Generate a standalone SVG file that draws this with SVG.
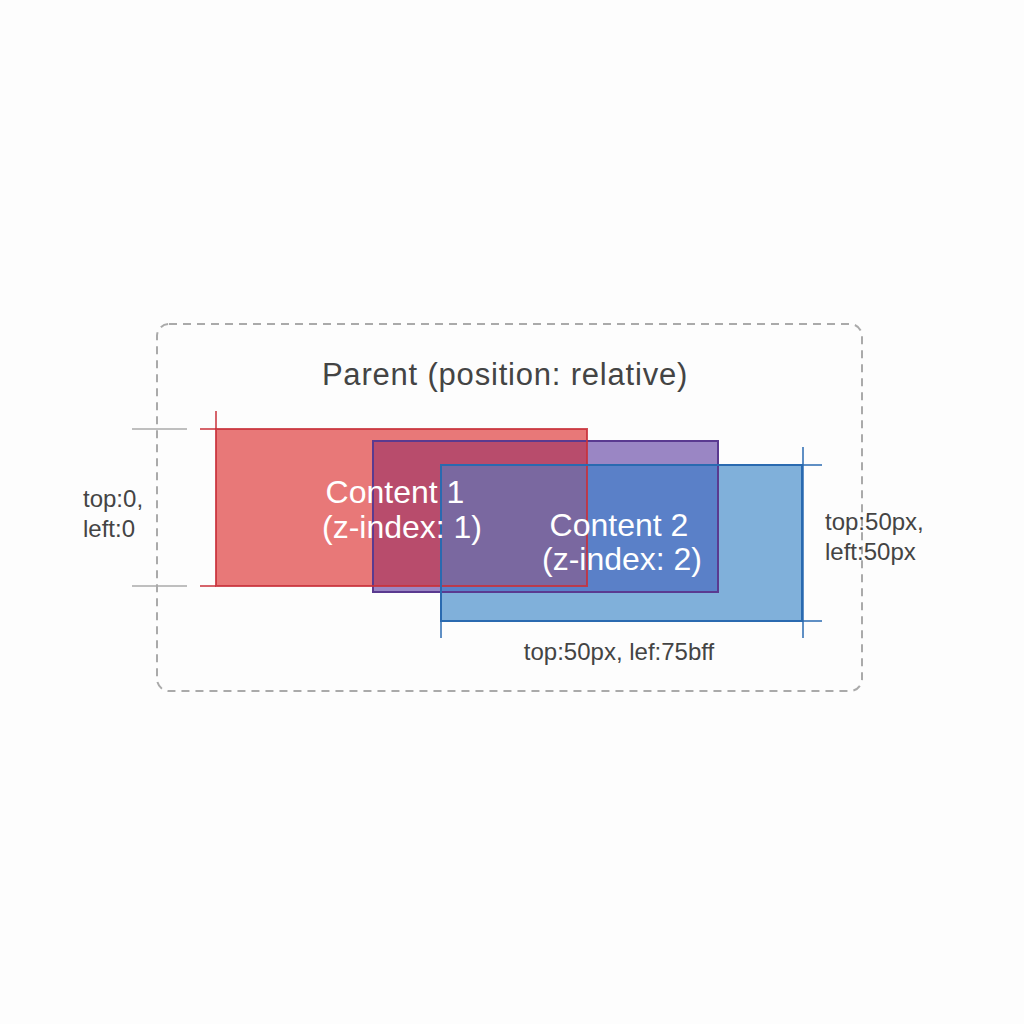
<svg xmlns="http://www.w3.org/2000/svg" width="1024" height="1024" viewBox="0 0 1024 1024">
<style>
.lbl{font-family:"Liberation Sans",Arial,sans-serif;fill:#444}
.wt{font-family:"Liberation Sans",Arial,sans-serif;fill:#fff;text-anchor:middle;font-size:32px}
.gg{stroke:#aaa;stroke-width:1.5;fill:none}
.rg{stroke:#c8303a;stroke-width:1.5;fill:none}
.bg{stroke:#2a6ab0;stroke-width:1.5;fill:none}
.edge{fill:none;stroke-width:2}
</style>
<rect width="1024" height="1024" fill="#fdfdfd"/>
<g id="parent">
<rect x="157" y="324" width="705" height="367" rx="12" fill="none" stroke="#aaa" stroke-width="2" stroke-dasharray="8,6"/>
<text class="lbl" x="505" y="385" font-size="31" letter-spacing="0.8" text-anchor="middle">Parent (position: relative)</text>
</g>
<g id="content-purple">
<rect x="373" y="441" width="345" height="151" fill="#9a86c4"/>
</g>
<g id="content1">
<rect x="216" y="429" width="371" height="157" fill="#e87878"/>
</g>
<g id="content2">
<rect x="441" y="465" width="361" height="156" fill="#80b0da"/>
</g>
<g id="overlaps">
<rect x="373" y="441" width="214" height="145" fill="#b84c6c"/>
<rect x="441" y="465" width="277" height="127" fill="#5a80c8"/>
<rect x="441" y="465" width="146" height="121" fill="#7a68a0"/>
</g>
<g id="edges">
<rect class="edge" x="373" y="441" width="345" height="151" stroke="#5a3a90"/>
<rect class="edge" x="216" y="429" width="371" height="157" stroke="#c8303a" stroke-opacity="0.85"/>
<rect class="edge" x="441" y="465" width="361" height="156" stroke="#2a6ab0"/>
</g>
<g id="labels">
<text class="wt" x="395" y="503">Content 1</text>
<text class="wt" x="402" y="538">(z-index: 1)</text>
<text class="wt" x="619" y="536">Content 2</text>
<text class="wt" x="622" y="570">(z-index: 2)</text>
</g>
<g id="connectors">
<line class="gg" x1="132" y1="429" x2="187" y2="429"/>
<line class="rg" x1="200" y1="429" x2="216" y2="429"/>
<line class="rg" x1="216" y1="411" x2="216" y2="429"/>
<line class="gg" x1="132" y1="586" x2="187" y2="586"/>
<line class="rg" x1="200" y1="586" x2="216" y2="586"/>
<line class="bg" x1="802" y1="465" x2="822" y2="465"/>
<line class="bg" x1="802" y1="621" x2="822" y2="621"/>
<line class="bg" x1="803" y1="447" x2="803" y2="638"/>
<line class="bg" x1="441" y1="621" x2="441" y2="638"/>
</g>
<g id="annotations">
<text class="lbl" x="83" y="507" font-size="24">top:0,</text>
<text class="lbl" x="83" y="537" font-size="24">left:0</text>
<text class="lbl" x="825" y="530" font-size="24">top:50px,</text>
<text class="lbl" x="825" y="560" font-size="24">left:50px</text>
<text class="lbl" x="619" y="660" font-size="24" text-anchor="middle">top:50px, lef:75bff</text>
</g>
</svg>
